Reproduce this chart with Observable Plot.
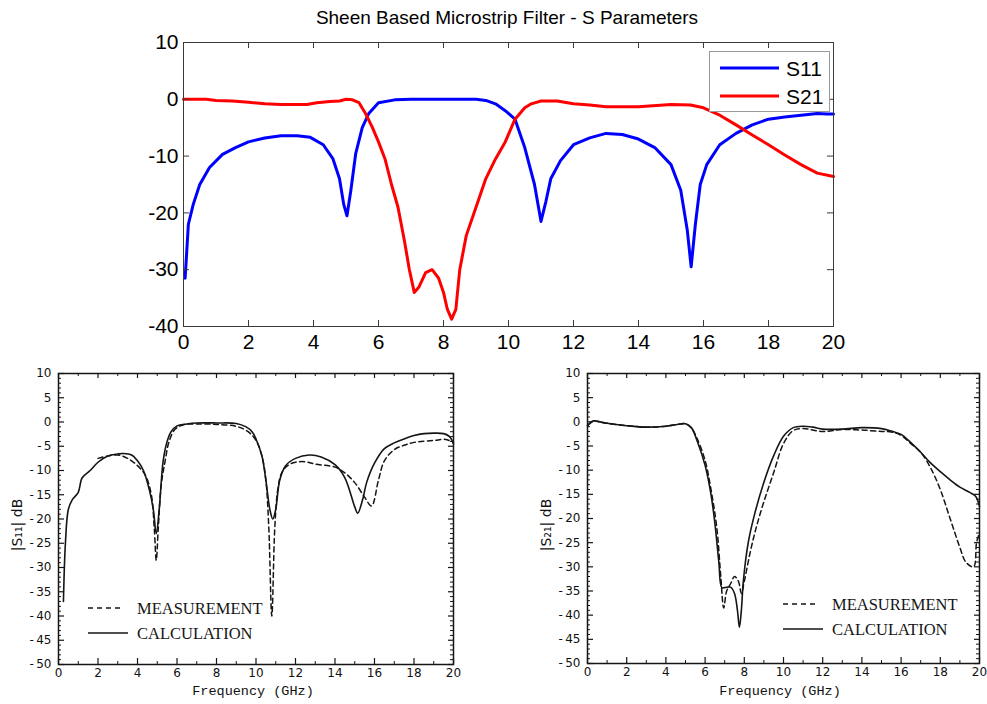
<!DOCTYPE html>
<html>
<head>
<meta charset="utf-8">
<script src="https://cdn.jsdelivr.net/npm/d3@7"></script>
<script src="https://cdn.jsdelivr.net/npm/@observablehq/plot@0.6"></script>
<style>
  body { margin: 0; background: #fff; }
  #root { position: relative; width: 987px; height: 704px; overflow: hidden; background: #fff; }
  .title { font-family: "Liberation Sans Narrow", "Arial Narrow", "Liberation Sans", Arial, sans-serif; font-size: 19px; color: #000; text-align: center; white-space: nowrap; }
  .ylab { font-family: "DejaVu Sans", sans-serif; font-size: 14px; color: #111; white-space: nowrap; transform: rotate(-90deg); transform-origin: center center; text-align: center; }
  .xlab { font-family: "Liberation Mono", "DejaVu Sans Mono", monospace; font-size: 13.5px; color: #111; white-space: nowrap; text-align: center; }
</style>
</head>
<body>
<div id="root"></div>
<script>
// ---------- DATA ----------
// Top chart (simulation)
const topTitle = "Sheen Based Microstrip Filter - S Parameters";
const topXTicks = [0, 2, 4, 6, 8, 10, 12, 14, 16, 18, 20];
const topYTicks = [-40, -30, -20, -10, 0, 10];
const topSeries = ["S11", "S21"];

const s11Freq = [0.05,0.15,0.3,0.5,0.8,1.2,1.6,2.0,2.5,3.0,3.5,3.9,4.3,4.6,4.8,4.93,5.03,5.15,5.3,5.5,5.7,6.0,6.5,7,8,9.0,9.3,9.6,9.9,10.2,10.5,10.8,11.0,11.15,11.3,11.6,12.0,12.5,13.0,13.5,14.0,14.5,15.0,15.3,15.5,15.62,15.75,15.9,16.1,16.5,17.0,17.5,18.0,18.5,19.0,19.5,19.8,20.0];
const s11Db   = [-31.5,-22,-18.5,-15,-12,-9.7,-8.5,-7.5,-6.8,-6.4,-6.4,-6.7,-8,-10.5,-14,-18.5,-20.5,-16,-9.5,-5,-2.5,-0.6,-0.1,0,0,0,-0.2,-0.8,-2,-3.5,-8.5,-15,-21.5,-18,-14,-10.8,-8,-6.8,-6,-6.2,-7,-8.5,-11.5,-16,-23,-29.5,-22,-15,-11.5,-8,-6.0,-4.5,-3.5,-3.1,-2.8,-2.5,-2.6,-2.6];

const s21Freq = [0,0.7,1.0,1.5,2.0,2.5,3.0,3.5,3.8,4.1,4.5,4.8,5.0,5.2,5.4,5.6,5.8,6.0,6.2,6.4,6.6,6.8,6.95,7.1,7.25,7.45,7.65,7.85,8.0,8.12,8.25,8.38,8.5,8.7,9.0,9.3,9.6,9.9,10.2,10.5,10.7,11.0,11.5,12.0,12.5,13.0,14.0,15.0,15.6,16.0,16.5,17.0,17.5,18.0,18.5,19.0,19.5,20.0];
const s21Db   = [0,0,-0.2,-0.3,-0.5,-0.8,-0.9,-0.9,-0.9,-0.6,-0.4,-0.3,0,-0.1,-0.6,-2.5,-4.8,-7.5,-10.5,-15,-19,-25,-30,-34,-33,-30.5,-30,-31.5,-34,-37,-38.7,-37,-30,-24,-19,-14,-10.5,-7.5,-3.5,-1.5,-0.8,-0.3,-0.3,-0.8,-1.0,-1.3,-1.3,-0.9,-1.0,-1.5,-2.8,-4.5,-6.3,-8,-9.8,-11.5,-13,-13.6];

// Bottom charts (scanned paper figures)
const botXTicks = [0, 2, 4, 6, 8, 10, 12, 14, 16, 18, 20];
const botXMinor = [1, 3, 5, 7, 9, 11, 13, 15, 17, 19];
const botYTicks = [-50, -45, -40, -35, -30, -25, -20, -15, -10, -5, 0, 5, 10];
const botYMinor = d3.range(-50, 11, 1).filter(v => v % 5 !== 0);
const botLegend = ["MEASUREMENT", "CALCULATION"];
const botXLabel = "Frequency (GHz)";

// |S11| bottom-left
const blCalcFreq = [0.25,0.35,0.5,0.7,1.0,1.2,1.6,2.0,2.5,3.0,3.3,3.7,4.0,4.3,4.6,4.8,4.95,5.1,5.3,5.5,5.7,6.0,6.5,7.0,8.0,9.0,9.5,9.8,10.0,10.3,10.5,10.7,10.85,11.0,11.2,11.5,12.0,12.7,13.3,14.0,14.5,15.0,15.15,15.4,15.6,16.0,16.5,17.0,17.5,18.0,18.5,19.0,19.5,19.8,20.0];
const blCalcDb   = [-37,-25,-18,-16,-14.5,-11.5,-10,-8.3,-7,-6.6,-6.5,-6.8,-8,-10,-14,-18,-23,-18,-8,-4,-2,-0.8,-0.4,-0.2,-0.2,-0.3,-1,-2,-3.5,-7,-12,-18,-20,-18,-12,-9,-7.5,-6.8,-7.2,-8.8,-11.5,-17.5,-18.8,-16,-12.5,-8.5,-5.5,-4.3,-3.5,-2.8,-2.4,-2.3,-2.4,-3,-4.5];
const blMeasFreq = [2.0,2.5,3.0,3.5,4.0,4.4,4.7,4.85,4.95,5.05,5.2,5.4,5.6,5.9,6.3,7.0,8.0,9.0,9.6,10.0,10.3,10.5,10.65,10.8,10.95,11.1,11.3,11.6,12.0,12.5,13.0,14.0,14.5,15.0,15.5,15.85,16.2,16.5,17.0,17.5,18.0,19.0,19.6,20.0];
const blMeasDb   = [-7.5,-7,-6.8,-7.5,-9,-11,-15,-22,-28.5,-22,-13,-8,-4,-1.5,-0.6,-0.4,-0.5,-0.9,-2,-3.8,-7,-12,-22,-40,-22,-14,-10.5,-9,-8.3,-8.2,-8.7,-9.3,-10.5,-12.5,-15.5,-17.3,-12,-8,-5.7,-4.8,-4.2,-3.8,-3.6,-4.2];

// |S21| bottom-right
const brCalcFreq = [0,0.3,0.5,1.0,2.0,3.0,4.0,4.5,5.0,5.3,5.6,6.0,6.3,6.5,6.7,6.85,7.0,7.3,7.5,7.65,7.75,7.85,7.95,8.2,8.5,9.0,9.5,10.0,10.5,11.0,11.5,12.0,13.0,14.0,15.0,15.5,16.0,16.5,17.0,17.5,18.0,18.5,19.0,19.5,19.8,20.0];
const brCalcDb   = [-0.8,0.2,0.1,-0.3,-0.8,-1.1,-0.9,-0.6,-0.4,-1.2,-4,-9,-15,-21,-29,-34.3,-34.3,-34.2,-35.5,-39,-42.5,-39,-33,-25,-19.5,-12.5,-7,-3,-1.2,-0.9,-1.1,-1.5,-1.5,-1.2,-1.4,-1.9,-2.6,-4.3,-6.3,-8.5,-10.3,-12,-13.5,-14.6,-15.4,-17.5];
const brMeasFreq = [0,0.3,0.5,1.0,2.0,3.0,4.0,4.5,5.0,5.3,5.6,6.0,6.3,6.6,6.8,6.95,7.1,7.3,7.5,7.7,7.85,8.0,8.3,8.6,9.0,9.5,10.0,10.5,11.0,12.0,13.0,14.0,15.0,15.5,16.0,16.5,17.0,17.5,18.0,18.5,19.0,19.3,19.7,19.85,20.0];
const brMeasDb   = [-0.8,0.2,0.1,-0.3,-0.8,-1.1,-0.9,-0.6,-0.4,-1.3,-3.5,-8,-14,-22,-32,-38.5,-35,-33.5,-32,-33,-35.5,-33,-27,-22,-16.5,-10.5,-4.5,-1.8,-1.4,-2,-1.6,-1.7,-2,-2.1,-2.8,-4.5,-6.3,-9.5,-14,-20,-26,-29,-30,-25,-23];

// ---------- BUILD ----------
const zip = (f, v) => f.map((x, i) => ({f: x, db: v[i]}));
const root = document.getElementById("root");
const NS = "http://www.w3.org/2000/svg";

function place(el, left, top) {
  el.style.position = "absolute";
  el.style.left = left + "px";
  el.style.top = top + "px";
  root.appendChild(el);
  return el;
}

// ----- Top chart -----
const titleDiv = document.createElement("div");
titleDiv.className = "title";
titleDiv.textContent = topTitle;
titleDiv.style.width = "500px";
place(titleDiv, 257, 7);

const T = {w: 987, h: 330, mt: 12, ml: 183, mr: 154, mb: 34};
const tFH = T.h - T.mt - T.mb, tFW = T.w - T.ml - T.mr;
const tTick = 6;
const topColor = {S11: "#0000ff", S21: "#ff0000"};
const topFont = "'Liberation Sans Narrow', 'Arial Narrow', 'Liberation Sans', Arial, sans-serif";
const axisInk = "#3a3a3a";

const topPlot = Plot.plot({
  width: T.w, height: T.h,
  marginTop: T.mt, marginLeft: T.ml, marginRight: T.mr, marginBottom: T.mb,
  x: {domain: [0, 20], axis: null},
  y: {domain: [-40, 10], axis: null},
  style: {fontFamily: topFont, fontSize: "21px", background: "transparent", overflow: "visible", color: "#000"},
  marks: [
    Plot.line(zip(s11Freq, s11Db), {x: "f", y: "db", stroke: topColor.S11, strokeWidth: 3}),
    Plot.line(zip(s21Freq, s21Db), {x: "f", y: "db", stroke: topColor.S21, strokeWidth: 3}),
    Plot.frame({stroke: axisInk, strokeWidth: 1}),
    Plot.tickX(topXTicks, {x: d => d, insetTop: tFH - tTick, stroke: axisInk}),
    Plot.tickX(topXTicks, {x: d => d, insetBottom: tFH - tTick, stroke: axisInk}),
    Plot.tickY(topYTicks, {y: d => d, insetRight: tFW - tTick, stroke: axisInk}),
    Plot.tickY(topYTicks, {y: d => d, insetLeft: tFW - tTick, stroke: axisInk}),
    Plot.text(topXTicks, {x: d => d, frameAnchor: "bottom", dy: 22, text: d => String(d), fill: "#000"}),
    Plot.text(topYTicks, {y: d => d, frameAnchor: "left", dx: -5, textAnchor: "end", text: d => String(d), fill: "#000"})
  ]
});
place(topPlot, 0, 30);

// Top legend
const leg = document.createElementNS(NS, "svg");
leg.setAttribute("width", 122);
leg.setAttribute("height", 62);
leg.innerHTML = `<rect x="0.5" y="0.5" width="120" height="60" fill="#fff" stroke="#9a9a9a"/>` +
  topSeries.map((s, i) => `<line x1="11" x2="70" y1="${17 + i * 28}" y2="${17 + i * 28}" stroke="${topColor[s]}" stroke-width="3"/>` +
    `<text x="77" y="${17 + i * 28}" dy="0.36em" font-family="${topFont.replace(/'/g, "")}" font-size="21px" fill="#000">${s}</text>`).join("");
place(leg, 709, 51);

// ----- Bottom charts -----
function bottomChart(calc, meas, opts) {
  const fh = opts.h - opts.mt - opts.mb, fw = opts.w - opts.ml - opts.mr;
  const ink = "#151515";
  const fmt = d => d < 0 ? "-\u2009" + Math.abs(d) : String(d);
  return Plot.plot({
    width: opts.w, height: opts.h,
    marginTop: opts.mt, marginLeft: opts.ml, marginRight: opts.mr, marginBottom: opts.mb,
    x: {domain: [0, 20], axis: null},
    y: {domain: [-50, 10], axis: null},
    style: {fontFamily: "'DejaVu Sans', sans-serif", fontSize: "12px", background: "transparent", overflow: "visible"},
    marks: [
      Plot.line(meas, {x: "f", y: "db", stroke: ink, strokeWidth: 1.5, strokeDasharray: "5,3.5", curve: "catmull-rom"}),
      Plot.line(calc, {x: "f", y: "db", stroke: ink, strokeWidth: 1.6, curve: "catmull-rom"}),
      Plot.frame({stroke: ink, strokeWidth: 1.5}),
      Plot.tickY(botYTicks, {y: d => d, insetRight: fw - 6, stroke: ink, strokeWidth: 1.2}),
      Plot.tickY(botYMinor, {y: d => d, insetRight: fw - 3, stroke: ink}),
      Plot.tickY(botYTicks, {y: d => d, insetLeft: fw - 5, stroke: ink, strokeWidth: 1.2}),
      Plot.tickY(botYMinor, {y: d => d, insetLeft: fw - 3, stroke: ink}),
      Plot.tickX(botXTicks, {x: d => d, insetTop: fh - 6, stroke: ink, strokeWidth: 1.2}),
      Plot.tickX(botXMinor, {x: d => d, insetTop: fh - 3, stroke: ink}),
      Plot.tickX(botXTicks, {x: d => d, insetBottom: fh - 5, stroke: ink, strokeWidth: 1.2}),
      Plot.tickX(botXMinor, {x: d => d, insetBottom: fh - 3, stroke: ink}),
      Plot.text(botXTicks, {x: d => d, frameAnchor: "bottom", dy: 12, text: d => String(d), fill: "#111"}),
      Plot.text(botYTicks, {y: d => d, frameAnchor: "left", dx: -7, textAnchor: "end", text: fmt, fill: "#111"})
    ]
  });
}

const BL = {w: 493, h: 344, mt: 13, ml: 58, mr: 40, mb: 40};
const BR = {w: 494, h: 344, mt: 13, ml: 94, mr: 8, mb: 41};
place(bottomChart(zip(blCalcFreq, blCalcDb), zip(blMeasFreq, blMeasDb), BL), 0, 360);
place(bottomChart(zip(brCalcFreq, brCalcDb), zip(brMeasFreq, brMeasDb), BR), 493, 360);

// bottom legends
function botLegendSvg() {
  const s = document.createElementNS(NS, "svg");
  s.setAttribute("width", 190);
  s.setAttribute("height", 54);
  s.innerHTML =
    `<line x1="0" x2="36" y1="14" y2="14" stroke="#151515" stroke-width="1.3" stroke-dasharray="5,4"/>` +
    `<line x1="0" x2="40" y1="39" y2="39" stroke="#151515" stroke-width="1.3"/>` +
    botLegend.map((t, i) => `<text x="49" y="${14 + i * 25}" dy="0.36em" font-family="Liberation Serif, Times New Roman, serif" font-size="16.5px" fill="#151515">${t}</text>`).join("");
  return s;
}
place(botLegendSvg(), 88, 594);
place(botLegendSvg(), 783, 590);

// axis labels
function yLabel(text, cx, cy) {
  const d = document.createElement("div");
  d.className = "ylab";
  d.style.width = "100px";
  d.style.height = "18px";
  d.style.lineHeight = "18px";
  d.textContent = text;
  place(d, cx - 50, cy - 9);
}
yLabel("|S\u2081\u2081| dB", 17, 525);
yLabel("|S\u2082\u2081| dB", 546, 525);

function xLabel(cx, cy) {
  const d = document.createElement("div");
  d.className = "xlab";
  d.style.width = "200px";
  d.style.lineHeight = "16px";
  d.textContent = botXLabel;
  place(d, cx - 100, cy - 8);
}
xLabel(253, 692);
xLabel(780, 692);
</script>
</body>
</html>
